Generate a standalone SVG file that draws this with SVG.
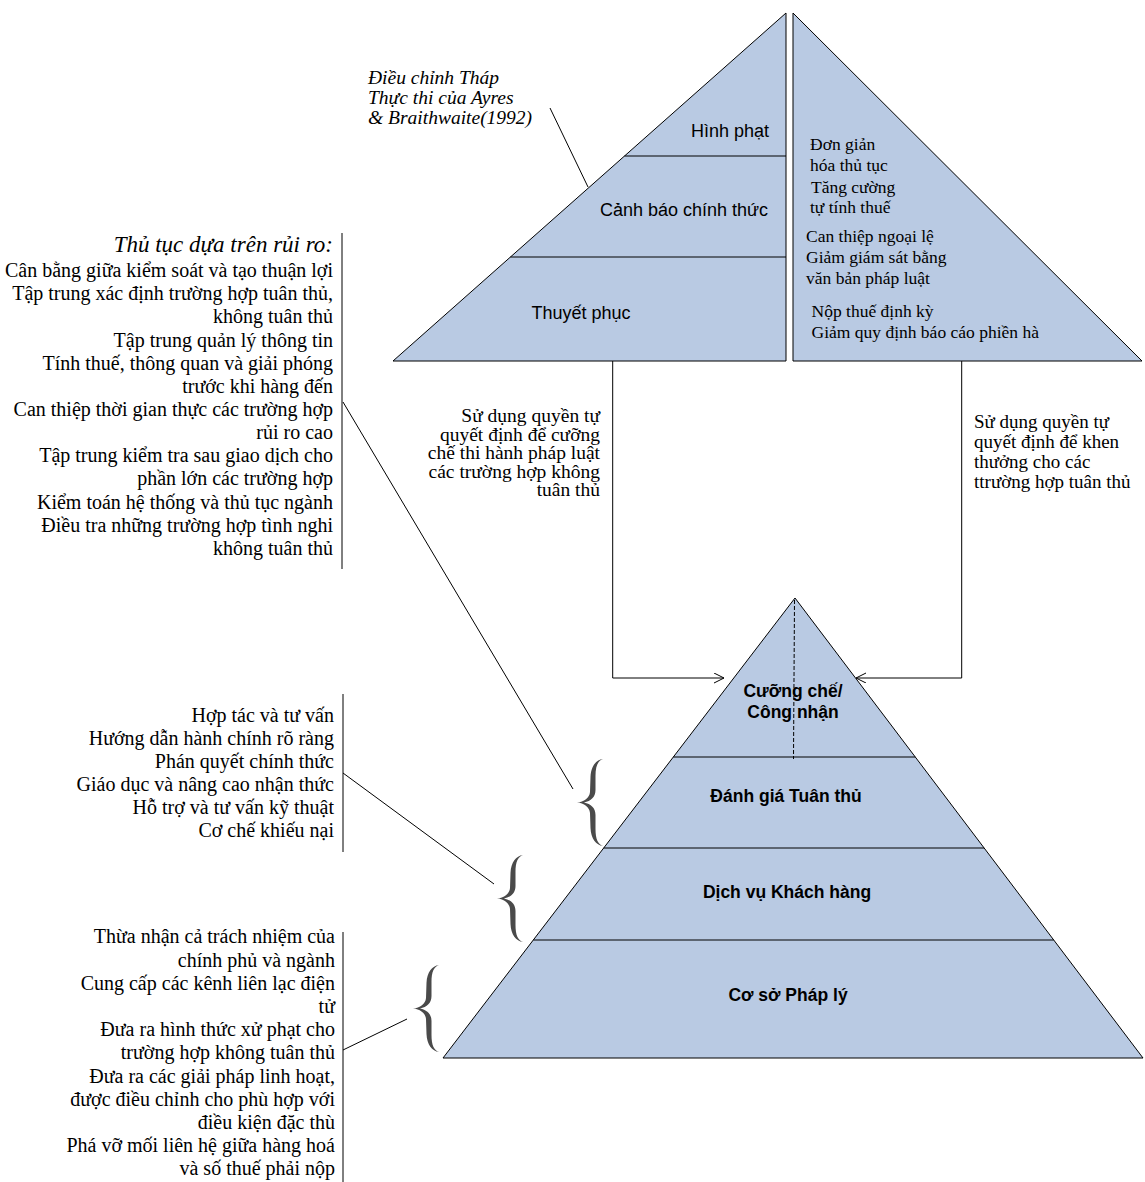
<svg xmlns="http://www.w3.org/2000/svg" width="1145" height="1182" viewBox="0 0 1145 1182">
  <style>
    .shape { fill: #b9cae3; stroke: #000; stroke-width: 1; }
    .rule { stroke: #000; stroke-width: 1; fill: none; }
    .dash { stroke: #000; stroke-width: 1; stroke-dasharray: 4 2; fill: none; }
    .brace { fill: #4a4a4a; }
    .sans { font-family: "Liberation Sans", Arial, sans-serif; fill: #000; }
    .sansb { font-family: "Liberation Sans", Arial, sans-serif; font-weight: bold; fill: #000; }
    .serif { font-family: "Liberation Serif", "Times New Roman", serif; fill: #000; }
    .ital { font-family: "Liberation Serif", "Times New Roman", serif; font-style: italic; fill: #000; }
  </style>
  <defs>
    <marker id="open-arrow" markerWidth="12" markerHeight="12" refX="10" refY="5" orient="auto" markerUnits="userSpaceOnUse">
      <path d="M0,0 L10,5 L0,10" fill="none" stroke="#000" stroke-width="1"/>
    </marker>
    <path id="brace-shape" d="M26,0 C19,1 14,7 13.5,18 L13,33 C12.5,39 7,43 0,43.5 C7,44 12.5,48 13,54 L13.5,69 C14,80 19,86 26,87 C21,85.5 18.5,80 18.5,70 L18.5,56 C18.5,49 14,45 7,43.5 C14,42 18.5,38 18.5,31 L18.5,17 C18.5,7 21,1.5 26,0 Z"/>
  </defs>

  <rect width="1145" height="1182" fill="#fff"/>

  <!-- enforcement pyramid (left half) -->
  <g id="enforcement-pyramid">
    <polygon class="shape" points="786,13 786,361 393,361"/>
    <line class="rule" x1="624.5" y1="156" x2="786" y2="156"/>
    <line class="rule" x1="510.4" y1="257" x2="786" y2="257"/>
    <text class="sans" font-size="18" x="730" y="137" text-anchor="middle">Hình phạt</text>
    <text class="sans" font-size="18" x="684" y="216" text-anchor="middle">Cảnh báo chính thức</text>
    <text class="sans" font-size="18" x="581" y="319" text-anchor="middle">Thuyết phục</text>
  </g>

  <!-- facilitation triangle (right half) -->
  <g id="facilitation-triangle">
    <polygon class="shape" points="793,13 793,361 1142,361"/>
    <g class="serif" font-size="17.5">
      <text x="810" y="150">Đơn giản</text>
      <text x="810" y="171">hóa thủ tục</text>
      <text x="811" y="192.5">Tăng cường</text>
      <text x="810" y="213">tự tính thuế</text>
      <text x="806" y="242">Can thiệp ngoại lệ</text>
      <text x="806" y="263">Giảm giám sát bằng</text>
      <text x="806" y="284">văn bản pháp luật</text>
      <text x="811.5" y="317">Nộp thuế định kỳ</text>
      <text x="811.5" y="338">Giảm quy định báo cáo phiền hà</text>
    </g>
  </g>

  <!-- source caption -->
  <g id="source-caption" class="ital" font-size="19.5">
    <text x="368" y="84">Điều chỉnh Tháp</text>
    <text x="368" y="104">Thực thi của Ayres</text>
    <text x="368" y="124">&amp; Braithwaite(1992)</text>
  </g>

  <!-- risk-based procedures -->
  <g id="risk-based-list">
    <line class="rule" x1="342" y1="233" x2="342" y2="569"/>
    <text class="ital" font-size="23" x="333" y="252" text-anchor="end">Thủ tục dựa trên rủi ro:</text>
    <g class="serif" font-size="20" text-anchor="end">
      <text x="333" y="277">Cân bằng giữa kiểm soát và tạo thuận lợi</text>
      <text x="333" y="300.2">Tập trung xác định trường hợp tuân thủ,</text>
      <text x="333" y="323.3">không tuân thủ</text>
      <text x="333" y="346.5">Tập trung quản lý thông tin</text>
      <text x="333" y="369.6">Tính thuế, thông quan và giải phóng</text>
      <text x="333" y="392.8">trước khi hàng đến</text>
      <text x="333" y="415.9">Can thiệp thời gian thực các trường hợp</text>
      <text x="333" y="439.1">rủi ro cao</text>
      <text x="333" y="462.2">Tập trung kiểm tra sau giao dịch cho</text>
      <text x="333" y="485.4">phần lớn các trường hợp</text>
      <text x="333" y="508.5">Kiểm toán hệ thống và thủ tục ngành</text>
      <text x="333" y="531.7">Điều tra những trường hợp tình nghi</text>
      <text x="333" y="554.8">không tuân thủ</text>
    </g>
  </g>

  <!-- customer service list -->
  <g id="service-list">
    <line class="rule" x1="343" y1="694" x2="343" y2="852"/>
    <g class="serif" font-size="20" text-anchor="end">
      <text x="334" y="722">Hợp tác và tư vấn</text>
      <text x="334" y="745">Hướng dẫn hành chính rõ ràng</text>
      <text x="334" y="768">Phán quyết chính thức</text>
      <text x="334" y="791">Giáo dục và nâng cao nhận thức</text>
      <text x="334" y="814">Hỗ trợ và tư vấn kỹ thuật</text>
      <text x="334" y="837">Cơ chế khiếu nại</text>
    </g>
  </g>

  <!-- legal basis list -->
  <g id="legal-list">
    <line class="rule" x1="343" y1="932" x2="343" y2="1182"/>
    <g class="serif" font-size="20" text-anchor="end">
      <text x="335" y="943.3">Thừa nhận cả trách nhiệm của</text>
      <text x="335" y="966.5">chính phủ và ngành</text>
      <text x="335" y="989.7">Cung cấp các kênh liên lạc điện</text>
      <text x="335" y="1012.9">tử</text>
      <text x="335" y="1036.1">Đưa ra hình thức xử phạt cho</text>
      <text x="335" y="1059.3">trường hợp không tuân thủ</text>
      <text x="335" y="1082.5">Đưa ra các giải pháp linh hoạt,</text>
      <text x="335" y="1105.7">được điều chỉnh cho phù hợp với</text>
      <text x="335" y="1128.9">điều kiện đặc thù</text>
      <text x="335" y="1152.1">Phá vỡ mối liên hệ giữa hàng hoá</text>
      <text x="335" y="1175.3">và số thuế phải nộp</text>
    </g>
  </g>

  <!-- compliance pyramid -->
  <g id="compliance-pyramid">
    <polygon class="shape" points="795,598 1143,1058 443,1058"/>
    <line class="rule" x1="673.3" y1="757" x2="915.3" y2="757"/>
    <line class="rule" x1="603.7" y1="848" x2="984.1" y2="848"/>
    <line class="rule" x1="533.4" y1="940" x2="1053.7" y2="940"/>
    <line class="dash" x1="794.5" y1="600" x2="793.5" y2="759"/>
    <g class="sansb" font-size="17.5" text-anchor="middle">
      <text x="793" y="697">Cưỡng chế/</text>
      <text x="793" y="718">Công nhận</text>
      <text x="786" y="802">Đánh giá Tuân thủ</text>
      <text x="787" y="898">Dịch vụ Khách hàng</text>
      <text x="788" y="1001">Cơ sở Pháp lý</text>
    </g>
  </g>

  <!-- discretion labels -->
  <g id="enforce-discretion" class="serif" font-size="19.5" text-anchor="end">
    <text x="600" y="422">Sử dụng quyền tự</text>
    <text x="600" y="440.5">quyết định để cưỡng</text>
    <text x="600" y="459">chế thi hành pháp luật</text>
    <text x="600" y="477.5">các trường hợp không</text>
    <text x="600" y="496">tuân thủ</text>
  </g>
  <g id="reward-discretion" class="serif" font-size="19">
    <text x="974" y="428">Sử dụng quyền tự</text>
    <text x="974" y="448">quyết định để khen</text>
    <text x="974" y="468">thưởng cho các</text>
    <text x="974" y="488">ttrường hợp tuân thủ</text>
  </g>

  <!-- braces grouping the pyramid layers -->
  <g id="braces" class="brace">
    <use href="#brace-shape" transform="translate(577,759)"/>
    <use href="#brace-shape" transform="translate(497,855)"/>
    <use href="#brace-shape" transform="translate(413,965)"/>
  </g>

  <!-- connectors -->
  <g id="connectors">
    <path class="rule" d="M612.7,361 V678 H724" marker-end="url(#open-arrow)"/>
    <path class="rule" d="M961.7,361 V678 H856" marker-end="url(#open-arrow)"/>
    <line class="rule" x1="550" y1="108" x2="588" y2="187"/>
    <line class="rule" x1="343" y1="402" x2="573" y2="789"/>
    <line class="rule" x1="343" y1="773" x2="494" y2="884"/>
    <line class="rule" x1="343" y1="1050" x2="407" y2="1019"/>
  </g>
</svg>
